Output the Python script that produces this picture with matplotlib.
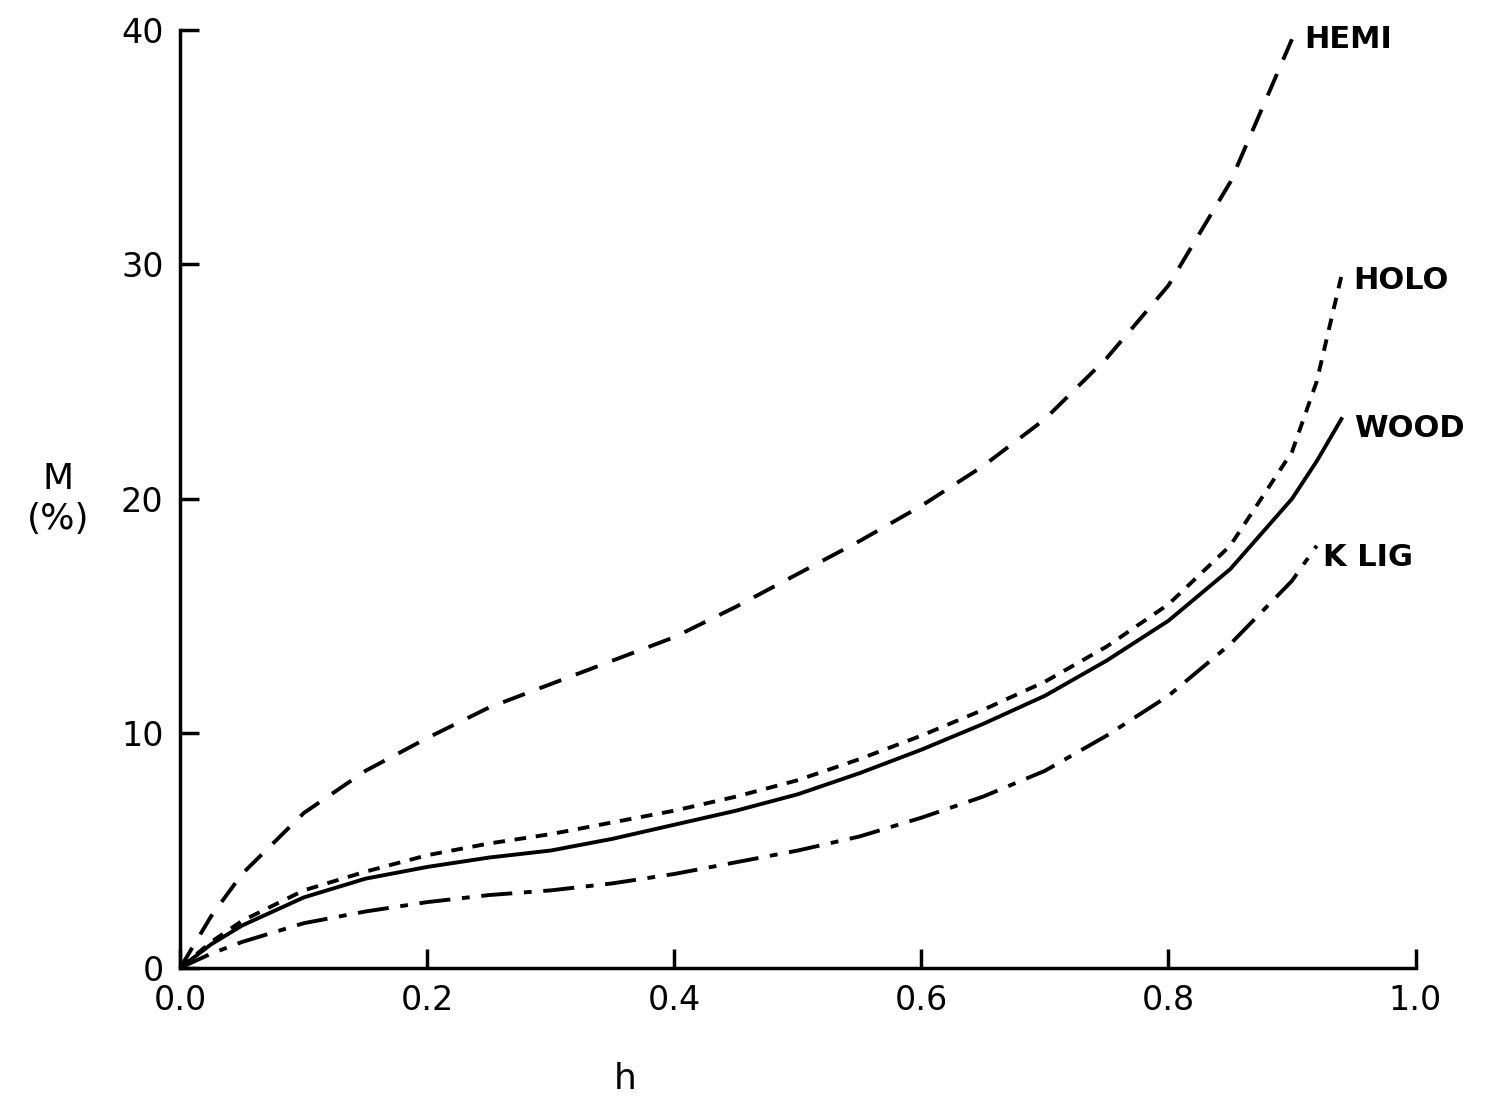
import matplotlib
matplotlib.use("Agg")
import matplotlib.pyplot as plt

h = [0.0, 0.025, 0.05, 0.1, 0.15, 0.2, 0.25, 0.3, 0.35, 0.4, 0.45, 0.5, 0.55, 0.6, 0.65, 0.7, 0.75, 0.8, 0.85, 0.9]
hemi = [0.0, 2.2, 4.0, 6.6, 8.4, 9.8, 11.1, 12.1, 13.1, 14.1, 15.4, 16.8, 18.2, 19.7, 21.4, 23.4, 26.0, 29.1, 33.5, 39.6]
h2 = [0.0, 0.025, 0.05, 0.1, 0.15, 0.2, 0.25, 0.3, 0.35, 0.4, 0.45, 0.5, 0.55, 0.6, 0.65, 0.7, 0.75, 0.8, 0.85, 0.9, 0.92, 0.94]
wood = [0.0, 1.0, 1.8, 3.0, 3.8, 4.3, 4.7, 5.0, 5.5, 6.1, 6.7, 7.4, 8.3, 9.3, 10.4, 11.6, 13.1, 14.8, 17.0, 20.0, 21.6, 23.4]
holo = [0.0, 1.1, 2.0, 3.3, 4.1, 4.8, 5.3, 5.7, 6.2, 6.7, 7.3, 8.0, 8.9, 9.9, 11.0, 12.2, 13.7, 15.5, 18.0, 22.0, 25.0, 29.5]
h3 = [0.0, 0.025, 0.05, 0.1, 0.15, 0.2, 0.25, 0.3, 0.35, 0.4, 0.45, 0.5, 0.55, 0.6, 0.65, 0.7, 0.75, 0.8, 0.85, 0.9, 0.92]
klig = [0.0, 0.6, 1.1, 1.9, 2.4, 2.8, 3.1, 3.3, 3.6, 4.0, 4.5, 5.0, 5.6, 6.4, 7.3, 8.4, 9.9, 11.6, 13.8, 16.5, 18.0]

fig = plt.figure(figsize=(14.9, 11.06), dpi=100)
ax = fig.add_axes([0.121, 0.125, 0.829, 0.848])
k = dict(color="black", lw=2.8)
ax.plot(h, hemi, ls=(0, (6, 4)), **k)
ax.plot(h2, holo, ls=(0, (3, 2.5)), **k)
ax.plot(h2, wood, ls="-", **k)
ax.plot(h3, klig, ls=(0, (8, 3, 2, 3)), **k)
fs = 22
ax.text(0.91, 39.6, "HEMI", fontsize=fs, fontweight="bold", va="center")
ax.text(0.95, 29.3, "HOLO", fontsize=fs, fontweight="bold", va="center")
ax.text(0.95, 23.0, "WOOD", fontsize=fs, fontweight="bold", va="center")
ax.text(0.925, 17.5, "K LIG", fontsize=fs, fontweight="bold", va="center")

ax.set_xlim(0, 1.0)
ax.set_ylim(0, 40)
ax.set_xticks([0, 0.2, 0.4, 0.6, 0.8, 1.0])
ax.set_xticklabels(["0.0", "0.2", "0.4", "0.6", "0.8", "1.0"])
ax.set_yticks([0, 10, 20, 30, 40])
ax.tick_params(direction="in", length=14, width=2.5, labelsize=24, pad=12)
for s in ["top", "right"]:
    ax.spines[s].set_visible(False)
for s in ["left", "bottom"]:
    ax.spines[s].set_linewidth(2.5)
ax.set_xlabel("h", fontsize=26, labelpad=26)
ax.xaxis.set_label_coords(0.36, -0.1)
ax.set_ylabel("M\n(%)", fontsize=26, rotation=0, labelpad=45, va="center")
fig.savefig("out.png", dpi=100)
